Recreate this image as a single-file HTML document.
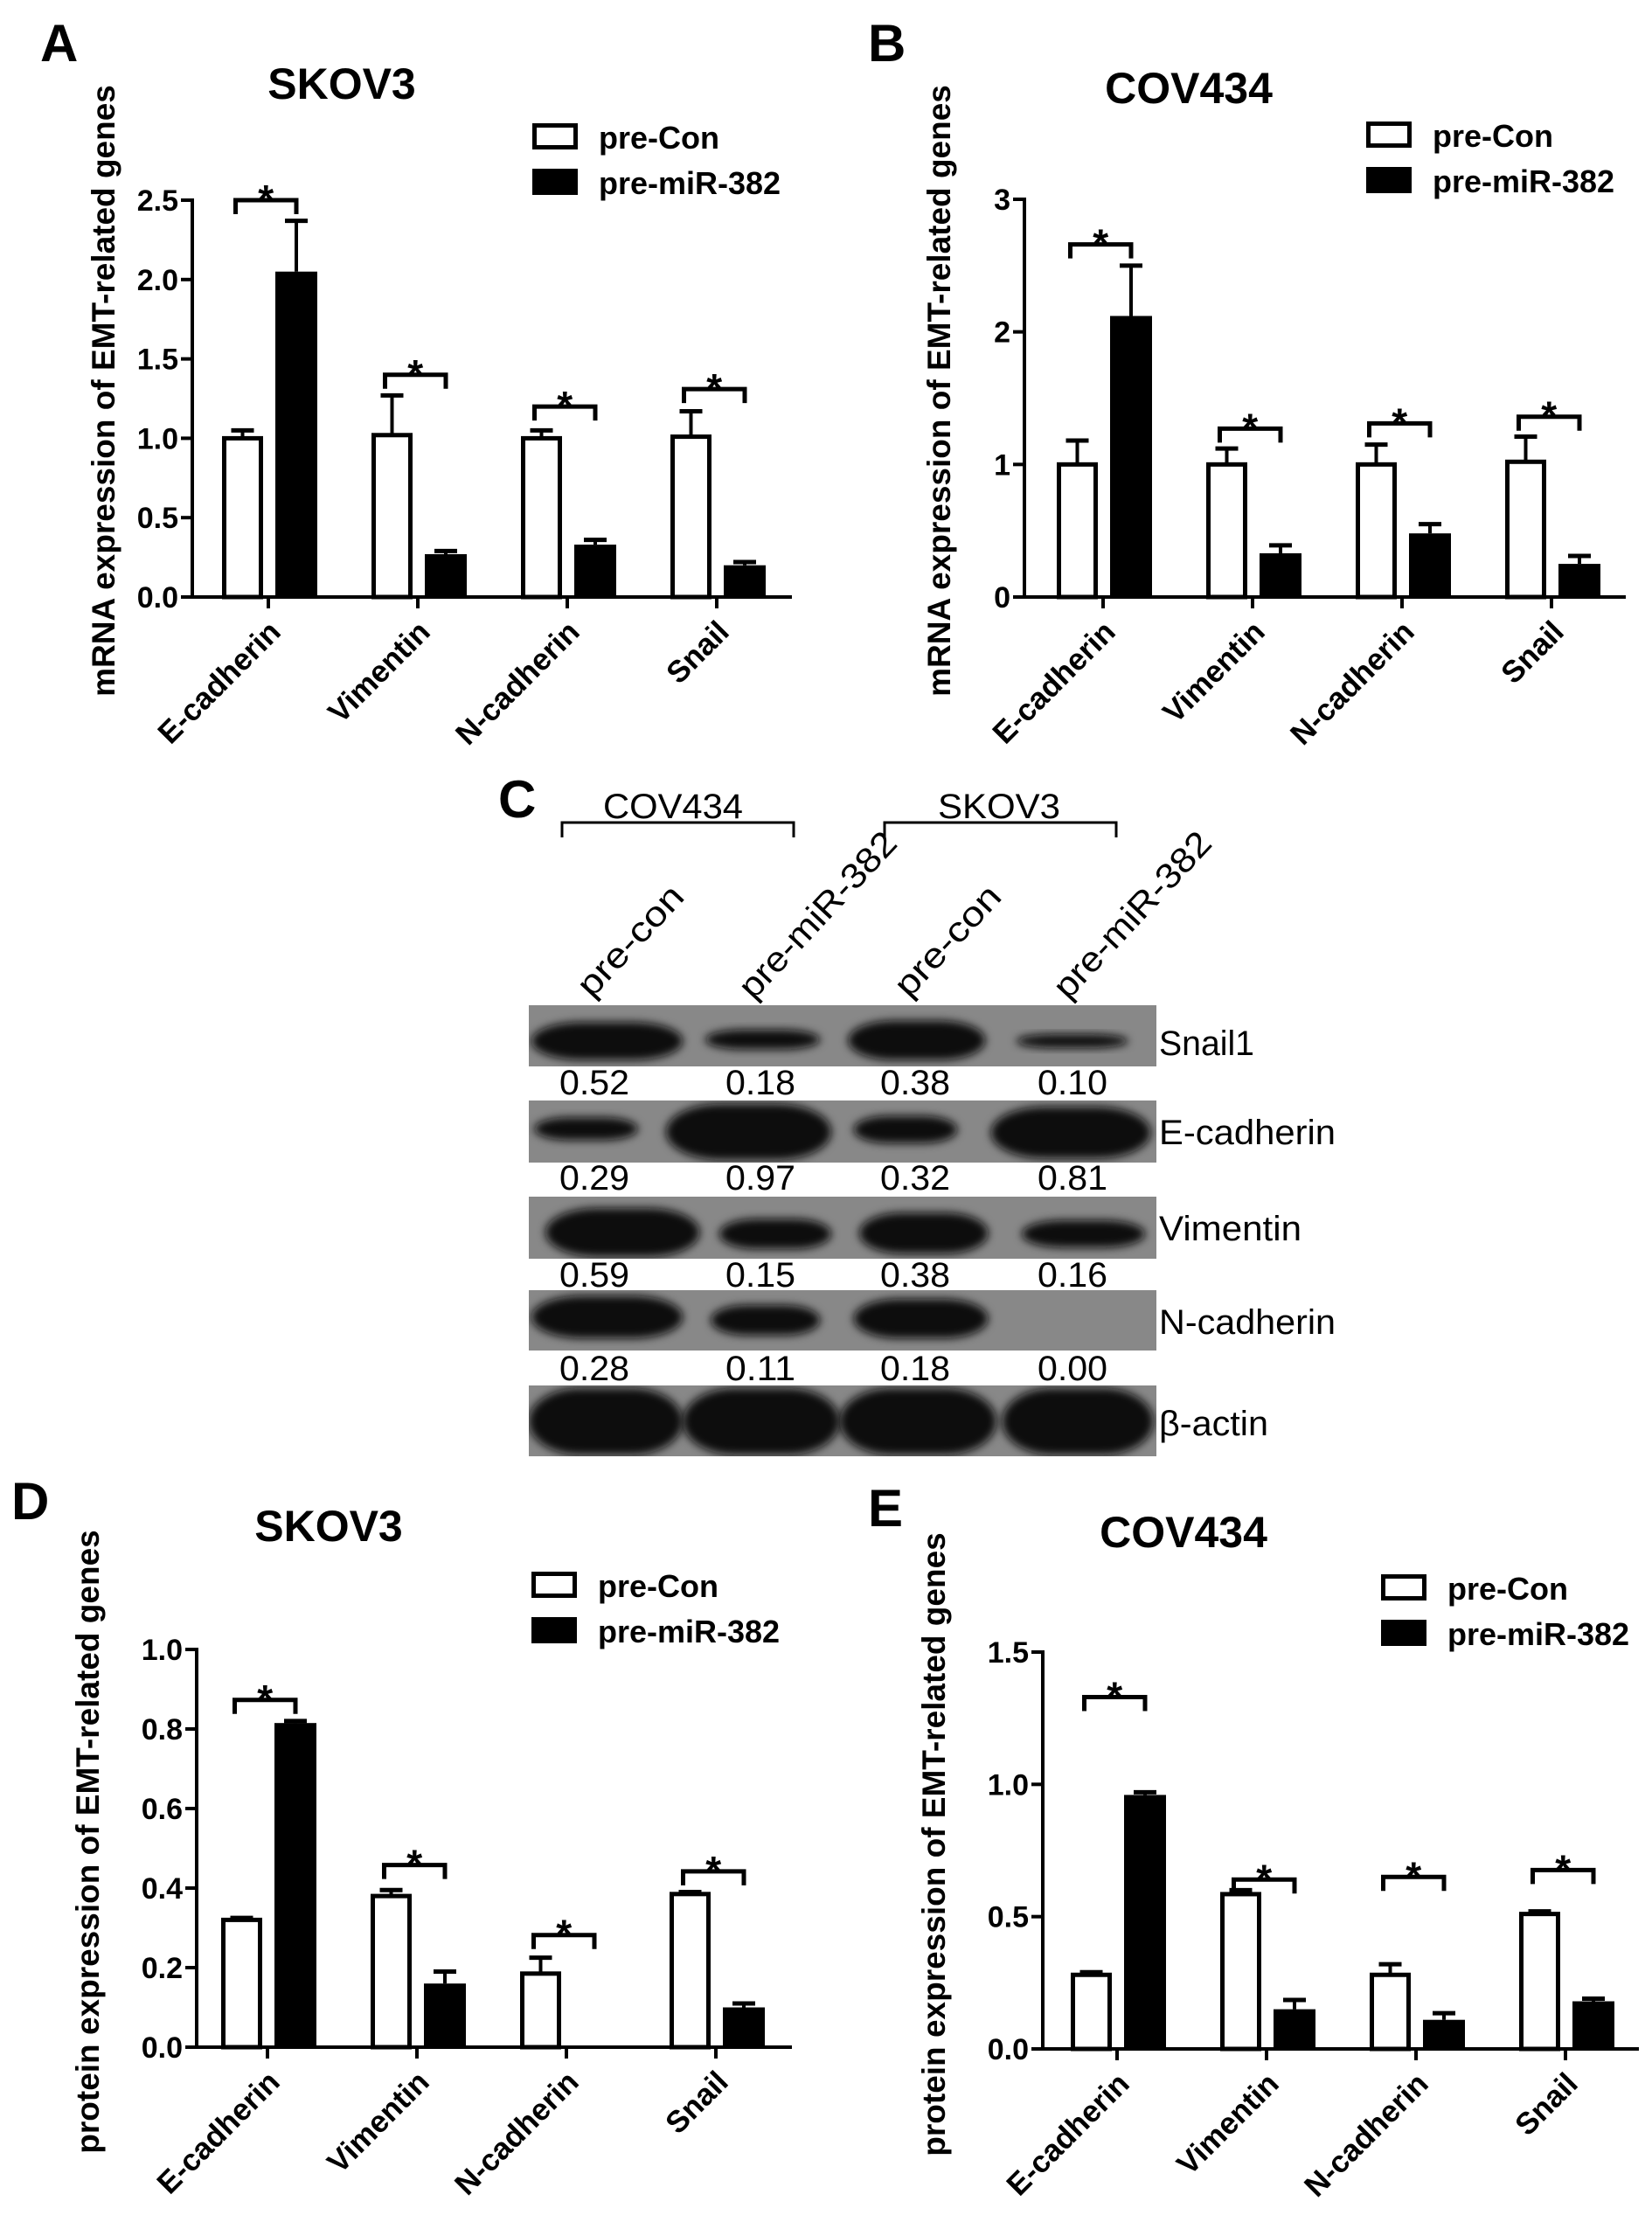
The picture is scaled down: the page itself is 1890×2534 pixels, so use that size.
<!DOCTYPE html>
<html><head><meta charset="utf-8">
<style>
html,body{margin:0;padding:0;background:#fff;}
svg{display:block;}
text{font-family:"Liberation Sans",Arial,sans-serif;}
</style></head>
<body>
<svg id="fig" xmlns="http://www.w3.org/2000/svg" width="1890" height="2534" viewBox="0 0 1890 2534">
<rect width="1890" height="2534" fill="#fff"/>
</svg>
<script>
const categories = ["E-cadherin","Vimentin","N-cadherin","Snail"];
// Panel A: SKOV3 mRNA
const aCon = [1.0, 1.02, 1.0, 1.01];
const aConErr = [1.05, 1.27, 1.05, 1.17];
const aMir = [2.05, 0.27, 0.33, 0.2];
const aMirErr = [2.37, 0.29, 0.36, 0.22];
const aSig = [2.5, 1.4, 1.2, 1.31];
const aTicks = ["0.0","0.5","1.0","1.5","2.0","2.5"];
// Panel B: COV434 mRNA
const bCon = [1.0, 1.0, 1.0, 1.02];
const bConErr = [1.18, 1.12, 1.15, 1.21];
const bMir = [2.12, 0.33, 0.48, 0.25];
const bMirErr = [2.5, 0.39, 0.55, 0.31];
const bSig = [2.66, 1.27, 1.31, 1.36];
const bTicks = ["0","1","2","3"];
// Panel D: SKOV3 protein
const dCon = [0.32, 0.38, 0.185, 0.385];
const dConErr = [0.325, 0.395, 0.225, 0.39];
const dMir = [0.815, 0.16, 0, 0.1];
const dMirErr = [0.82, 0.19, 0, 0.11];
const dSig = [0.873, 0.458, 0.282, 0.442];
const dTicks = ["0.0","0.2","0.4","0.6","0.8","1.0"];
// Panel E: COV434 protein
const eCon = [0.28, 0.585, 0.28, 0.51];
const eConErr = [0.29, 0.6, 0.32, 0.52];
const eMir = [0.96, 0.15, 0.11, 0.18];
const eMirErr = [0.97, 0.185, 0.135, 0.19];
const eSig = [1.33, 0.64, 0.65, 0.676];
const eTicks = ["0.0","0.5","1.0","1.5"];
// Panel C: western blot densitometry
const blotProteins = ["Snail1","E-cadherin","Vimentin","N-cadherin","β-actin"];
const blotLanes = ["pre-con","pre-miR-382","pre-con","pre-miR-382"];
const blotValues = [["0.52","0.18","0.38","0.10"],["0.29","0.97","0.32","0.81"],["0.59","0.15","0.38","0.16"],["0.28","0.11","0.18","0.00"]];

const NS="http://www.w3.org/2000/svg";
const svg=document.getElementById('fig');
function mk(tag,attrs,parent,txt){const e=document.createElementNS(NS,tag);for(const k in attrs)e.setAttribute(k,attrs[k]);if(txt!==undefined)e.textContent=txt;(parent||svg).appendChild(e);return e;}

function chart(cfg){
  const g=mk('g',{});
  
  
  const maxV=cfg.max;
  const y=v=>cfg.y0-(v/maxV)*(cfg.y0-cfg.yTop);
  const cx=i=>cfg.c0+i*cfg.step;
  const L=mk('text',{x:cfg.letterX,y:cfg.letterY,'font-size':60,'font-weight':'bold'},g,cfg.letter);
  
  
  const T=mk('text',{x:cfg.titleX,y:cfg.titleY,'font-size':50,'font-weight':'bold','text-anchor':'middle'},g,cfg.title);
  
  
  const YL=mk('text',{x:0,y:0,'font-size':37,'font-weight':'bold','text-anchor':'middle',transform:`translate(${cfg.ylX},${cfg.ylY}) rotate(-90)`},g,cfg.ylabel);
  
  
  const ya=mk('line',{x1:cfg.ax,y1:cfg.yTop-2,x2:cfg.ax,y2:cfg.y0,stroke:'#000','stroke-width':4},g);
  
  
  const xa=mk('line',{x1:cfg.ax-2,y1:cfg.y0,x2:cfg.xEnd,y2:cfg.y0,stroke:'#000','stroke-width':4},g);
  
  
  cfg.ticks.forEach((t,i)=>{
    const v=i*maxV/(cfg.ticks.length-1);
    mk('line',{x1:cfg.ax-13,y1:y(v),x2:cfg.ax,y2:y(v),stroke:'#000','stroke-width':4},g);
    const tl=mk('text',{x:cfg.ax-16,y:y(v)+12,'font-size':34,'font-weight':'bold','text-anchor':'end'},g,t);
    
    
  });
  categories.forEach((c,i)=>{
    const x=cx(i);
    mk('line',{x1:x,y1:cfg.y0,x2:x,y2:cfg.y0+13,stroke:'#000','stroke-width':4},g);
    const xl=mk('text',{x:0,y:0,'font-size':35,'font-weight':'bold','text-anchor':'end',transform:`translate(${x+16},${cfg.y0+42}) rotate(-45)`},g,c);
    
    
    const wL=x-53,wR=x-6,bL=x+8,bR=x+56;
    const yc=y(cfg.con[i]);
    const eb1=mk('line',{x1:(wL+wR)/2,y1:yc,x2:(wL+wR)/2,y2:y(cfg.conErr[i]),stroke:'#000','stroke-width':4},g);
    
    
    mk('line',{x1:(wL+wR)/2-13,y1:y(cfg.conErr[i]),x2:(wL+wR)/2+13,y2:y(cfg.conErr[i]),stroke:'#000','stroke-width':5},g);
    const wb=mk('rect',{x:wL+2.5,y:yc,width:wR-wL-5,height:Math.max(0,cfg.y0-yc),fill:'#fff',stroke:'#000','stroke-width':5},g);
    
    
    const ym=y(cfg.mir[i]);
    if(cfg.mir[i]>0){
      const eb2=mk('line',{x1:(bL+bR)/2,y1:ym,x2:(bL+bR)/2,y2:y(cfg.mirErr[i]),stroke:'#000','stroke-width':4},g);
      
      
      mk('line',{x1:(bL+bR)/2-13,y1:y(cfg.mirErr[i]),x2:(bL+bR)/2+13,y2:y(cfg.mirErr[i]),stroke:'#000','stroke-width':5},g);
    }
    const bb=mk('rect',{x:bL,y:ym,width:bR-bL,height:Math.max(0,cfg.y0-ym),fill:'#000'},g);
    
    
    const sy=y(cfg.sig[i]);
    const x1=(wL+wR)/2-8,x2=(bL+bR)/2;
    const br=mk('path',{d:`M${x1},${sy+16} L${x1},${sy} L${x2},${sy} L${x2},${sy+16}`,fill:'none',stroke:'#000','stroke-width':5},g);
    
    
    const st=mk('text',{x:(x1+x2)/2,y:sy+15,'font-size':46,'font-weight':'bold','text-anchor':'middle'},g,'*');
    
    
  });
  const lg=mk('g',{},g);
  
  
  const r1=mk('rect',{x:cfg.lgX+2.5,y:cfg.lgY+2.5,width:47,height:25,fill:'#fff',stroke:'#000','stroke-width':5},lg);
  
  
  const t1=mk('text',{x:cfg.lgX+76,y:cfg.lgY+29,'font-size':36,'font-weight':'bold'},lg,'pre-Con');
  
  
  const r2=mk('rect',{x:cfg.lgX,y:cfg.lgY+cfg.lgGap,width:52,height:30,fill:'#000'},lg);
  
  
  const t2=mk('text',{x:cfg.lgX+76,y:cfg.lgY+cfg.lgGap+29,'font-size':36,'font-weight':'bold'},lg,'pre-miR-382');
  
  
}

chart({name:'chart-a-skov3-mrna',letter:'A',letterX:46,letterY:70,title:'SKOV3',titleX:391,titleY:113,
  ylabel:'mRNA expression of EMT-related genes',ylX:131,ylY:447,ax:220,y0:683,yTop:229,max:2.5,xEnd:906,
  c0:307,step:171,ticks:aTicks,con:aCon,conErr:aConErr,mir:aMir,mirErr:aMirErr,sig:aSig,lgX:609,lgY:141,lgGap:52});
chart({name:'chart-b-cov434-mrna',letter:'B',letterX:993,letterY:70,title:'COV434',titleX:1360,titleY:118,
  ylabel:'mRNA expression of EMT-related genes',ylX:1087,ylY:447,ax:1172,y0:683,yTop:228,max:3,xEnd:1860,
  c0:1262,step:171,ticks:bTicks,con:bCon,conErr:bConErr,mir:bMir,mirErr:bMirErr,sig:bSig,lgX:1563,lgY:139,lgGap:52});
chart({name:'chart-d-skov3-protein',letter:'D',letterX:13,letterY:1738,title:'SKOV3',titleX:376,titleY:1763,
  ylabel:'protein expression of EMT-related genes',ylX:113,ylY:2107,ax:225,y0:2342,yTop:1887,max:1.0,xEnd:906,
  c0:306,step:171,ticks:dTicks,con:dCon,conErr:dConErr,mir:dMir,mirErr:dMirErr,sig:dSig,lgX:608,lgY:1798,lgGap:52});
chart({name:'chart-e-cov434-protein',letter:'E',letterX:993,letterY:1746,title:'COV434',titleX:1354,titleY:1770,
  ylabel:'protein expression of EMT-related genes',ylX:1081,ylY:2110,ax:1193,y0:2344,yTop:1890,max:1.5,xEnd:1875,
  c0:1278,step:171,ticks:eTicks,con:eCon,conErr:eConErr,mir:eMir,mirErr:eMirErr,sig:eSig,lgX:1580,lgY:1801,lgGap:52});

// ---- Panel C western blot ----
const gc=mk('g',{});


const defs=mk('defs',{},gc);
const flt=mk('filter',{id:'blur',x:'-20%',y:'-40%',width:'140%',height:'180%'},defs);
mk('feGaussianBlur',{stdDeviation:5},flt);
const cL=mk('text',{x:570,y:935,'font-size':60,'font-weight':'bold'},gc,'C');


function grpLabel(txt,x1,x2,tx,tw){
  const h=mk('text',{x:tx,y:936,'font-size':40,'text-anchor':'middle',textLength:tw,lengthAdjust:'spacingAndGlyphs'},gc,txt);
  
  
  const p=mk('path',{d:`M${x1},958 L${x1},941 L${x2},941 L${x2},958`,fill:'none',stroke:'#000','stroke-width':3},gc);
  
  
}
grpLabel('COV434',643,908,770,160);
grpLabel('SKOV3',1012,1277,1143,140);
const laneStart=[[677,1143],[862,1145],[1040,1143],[1222,1145]];
const laneLen=[158,244,158,244];
blotLanes.forEach((l,i)=>{
  const t=mk('text',{x:0,y:0,'font-size':40,textLength:laneLen[i],lengthAdjust:'spacingAndGlyphs',transform:`translate(${laneStart[i][0]},${laneStart[i][1]}) rotate(-47)`},gc,l);
  
  
});
const rowTop=[1150,1259,1369,1476,1585];
const rowBot=[1220,1330,1440,1545,1666];
const bandsZ=[
 [[75,345,85,210],[385,590,110,175],[640,885,80,210],[940,1140,125,170]],
 [[80,265,400,475],[315,610,355,540],[650,835,395,485],[895,1180,365,535]],
 [[100,375,700,860],[410,610,735,835],[660,890,715,850],[950,1170,740,830]],
 [[75,345,990,1130],[395,590,1020,1120],[650,890,1000,1130]],
 [[70,345,1295,1515],[345,625,1295,1515],[625,905,1295,1515],[915,1185,1295,1515]]
];
blotProteins.forEach((p,r)=>{
  const cp=mk('clipPath',{id:'clip'+r},defs);
  mk('rect',{x:605,y:rowTop[r],width:718,height:rowBot[r]-rowTop[r]},cp);
  const rg=mk('g',{'clip-path':`url(#clip${r})`},gc);
  
  
  mk('rect',{x:605,y:rowTop[r],width:718,height:rowBot[r]-rowTop[r],fill:'#888'},rg);
  bandsZ[r].forEach(b=>{
    const x1=b[0]/1.56+560,x2=b[1]/1.56+560,y1=b[2]/2.89+1140,y2=b[3]/2.89+1140;
    const e=mk('rect',{x:x1,y:y1,width:x2-x1,height:y2-y1,rx:(x2-x1)/3,ry:(y2-y1)/2,fill:'#111',filter:'url(#blur)'},rg);
    
    
  });
  const lb=mk('text',{x:1326,y:[1207,1309,1419,1526,1642][r],'font-size':40,textLength:[109,202,163,202,125][r],lengthAdjust:'spacingAndGlyphs'},gc,p);
  
  
});
const numBase=[1252,1361,1472,1579];
const numX=[680,870,1047,1227];
blotValues.forEach((row,r)=>{
  row.forEach((v,i)=>{
    const t=mk('text',{x:numX[i],y:numBase[r],'font-size':40,'text-anchor':'middle',textLength:80,lengthAdjust:'spacingAndGlyphs'},gc,v);
    
    
  });
});
</script>
</body></html>
